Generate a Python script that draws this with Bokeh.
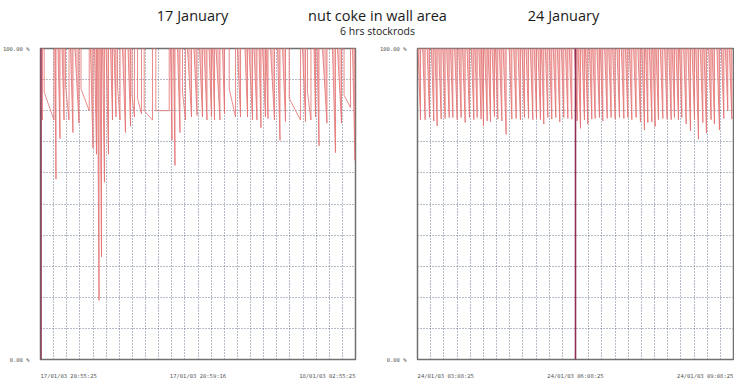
from bokeh.plotting import figure
from bokeh.layouts import column, row
from bokeh.models import Range1d, FixedTicker, Span
from bokeh.core.properties import value
from bokeh.embed import file_html
from bokeh.resources import INLINE

# ---------------- data ----------------
title_left = "17 January"
title_mid = "nut coke in wall area"
subtitle = "6 hrs stockrods"
title_right = "24 January"

y_ticks = [0, 100]
y_tick_labels = ["0.00 %", "100.00 %"]
left_time_labels = ["17/01/03 20:55:25", "17/01/03 20:59:16", "18/01/03 02:55:25"]
right_time_labels = ["24/01/03 03:08:25", "24/01/03 06:08:25", "24/01/03 09:08:25"]
retracted_level = 100

# 17 January: stockrod cycles (minutes from 20:55:25)
left_start = [0, 4.2, 16.6, 20.0, 24.6, 28.6, 34.3, 39.4, 46.3, 57.1, 61.7, 65.1, 68.0, 70.9, 74.9,
              80.0, 84.0, 88.0, 93.7, 100.0, 104.6, 110.9, 118.5, 131.8, 148.6, 152.0, 156.6, 162.3,
              168.0, 175.4, 181.7, 186.9, 192.6, 196.6, 200.6, 208.0, 215.7, 225.1, 233.7, 238.3,
              244.0, 249.7, 253.7, 257.7, 262.9, 270.9, 276.6, 284.2, 299.4, 305.1, 312.6, 316.0,
              322.3, 333.7, 339.4, 346.9, 356.6]
left_end = [2.3, 15.4, 17.7, 22.3, 26.9, 32.6, 37.1, 44.0, 55.7, 60.0, 64.0, 66.9, 69.7, 73.1, 77.7,
            82.3, 86.3, 90.9, 97.1, 102.9, 107.4, 115.4, 128.0, 147.1, 150.3, 153.7, 159.4, 165.7,
            172.6, 178.9, 185.1, 190.3, 195.4, 198.9, 205.1, 210.3, 222.9, 228.6, 236.6, 242.3,
            247.4, 252.0, 257.1, 260.0, 267.4, 273.7, 280.0, 297.1, 302.9, 309.1, 314.3, 318.3,
            327.4, 337.1, 344.0, 354.3, 359.4]
left_top = [81, 86, 100, 100, 100, 88, 100, 100, 87, 100, 100, 100, 100, 100, 100,
            100, 100, 88, 100, 100, 85, 84, 80, 80, 100, 100, 100, 86,
            100, 100, 100, 100, 100, 100, 100, 100, 87, 100, 100, 100,
            100, 100, 100, 100, 100, 100, 100, 84, 100, 86, 100, 100,
            100, 100, 100, 85, 100]
left_low = [77, 77, 58, 71, 77, 77, 73, 76, 80, 68, 66, 19, 33, 57, 66,
            77, 78, 77, 73, 75, 78, 79, 77, 80, 70.5, 62.4, 73, 77,
            78, 78.5, 78, 77, 78, 77, 77, 79, 78, 78, 78, 77,
            77, 74.5, 78, 77.5, 77, 70.5, 76.5, 77, 76.5, 77, 78, 68.7,
            76, 66.5, 76, 81, 64]

# 24 January: stockrod cycles (minutes from 03:08:25)
right_start = [0.6, 5.9, 11.0, 15.8, 19.9, 24.1, 28.8, 33.2, 37.6, 42.3, 46.9, 51.3, 56.4, 61.3, 65.4,
               69.8, 73.0, 76.5, 80.4, 84.9, 88.8, 93.2, 97.6, 104.4, 109.6, 114.4, 119.0, 123.6,
               128.5, 132.9, 137.2, 141.2, 145.6, 150.2, 154.7, 159.3, 163.9, 168.5, 172.9, 179.0,
               182.9, 187.3, 191.3, 195.8, 199.7, 204.4, 208.3, 213.2, 217.8, 222.3, 227.2, 232.2,
               236.8, 241.3, 246.2, 251.1, 255.5, 259.8, 264.1, 268.0, 271.7, 276.6, 281.5, 286.2,
               290.1, 294.4, 298.4, 303.2, 308.0, 312.7, 317.0, 322.1, 326.3, 331.6, 335.6, 341.1,
               346.1, 350.7, 355.2]
right_end = [3.4, 8.7, 13.7, 18.6, 22.4, 27.0, 31.5, 36.1, 40.3, 45.2, 49.7, 54.3, 59.2, 64.2, 68.0,
             72.5, 75.2, 79.4, 83.2, 87.7, 91.5, 96.1, 101.0, 107.5, 112.4, 117.3, 121.9, 126.5,
             131.4, 135.6, 140.1, 143.9, 148.5, 153.0, 157.6, 162.1, 166.7, 171.3, 175.8, 181.9,
             185.7, 190.2, 194.0, 198.6, 202.4, 207.3, 211.1, 216.1, 220.6, 225.2, 230.1, 235.1,
             239.6, 244.2, 249.1, 254.0, 258.6, 262.4, 267.0, 270.7, 274.5, 279.5, 284.4, 289.0,
             292.8, 297.3, 301.1, 306.1, 311.0, 315.6, 320.1, 325.1, 329.2, 334.5, 338.3, 344.0,
             349.0, 353.5, 358.1]
right_low = [77.1, 77.1, 77.8, 76.7, 75.1, 77.3, 77.5, 77.8, 77.8, 77.1,
             77.8, 76.2, 77.8, 77.1, 77.8, 77.3, 75.1, 76.7, 76.4, 78.1,
             77.3, 76.7, 72.4, 77.3, 77.5, 77.1, 77.8, 77.5, 77.1, 77.5,
             77.1, 75.7, 77.8, 77.3, 77.8, 76.4, 77.8, 77.5, 77.3,
             76.7, 74.3, 77.1, 75.7, 77.3, 77.5, 77.8, 76.7, 77.5, 77.8,
             77.3, 77.8, 77.5, 77.8, 77.1, 77.8, 76.4, 73.8, 76.2, 76.4,
             74.9, 77.1, 77.5, 77.3, 77.1, 77.8, 77.1, 77.8, 75.7, 73.5,
             77.1, 70.8, 76.2, 72.8, 77.1, 75.7, 73.8, 77.5, 80.0, 77.3]
right_top = [retracted_level] * len(right_start)

marker_left = 0.5
marker_right = 180

# ---------------- styling ----------------
LINE = "#e36f6f"
FILL = "#f0adad"
GRID = "#5f6b88"
LABEL_FONT = "DejaVu Sans Mono"
LABEL_COLOR = "#555555"
# first label hangs right of the frame start, last one ends at frame end (printed chart style)
X_LABEL_POS = [32.2, 180, 327.8]


def panel(start, end, top, low, time_labels, marker, bl, br, fw):
    p = figure(frame_width=fw, frame_height=311,
               x_range=Range1d(0, 360), y_range=Range1d(0, 100),
               output_backend="svg", toolbar_location=None,
               min_border_left=bl, min_border_right=br, min_border_top=6, min_border_bottom=16)
    p.title.visible = False
    p.background_fill_color = "white"
    p.border_fill_color = "white"
    p.outline_line_color = "#707070"
    p.outline_line_width = 1.5

    xs, ys = [], []
    pxs, pys = [], []
    for a, b, h, lo in zip(start, end, top, low):
        xs += [a, a, b, b]
        ys += [retracted_level, h, lo, retracted_level]
        if h >= retracted_level:
            pxs.append([a, a, b, b])
            pys.append([retracted_level, h, lo, retracted_level])
    p.patches(pxs, pys, fill_color=FILL, fill_alpha=0.75, line_color=None)
    p.line(xs, ys, line_color=LINE, line_width=1, line_alpha=0.8)

    p.add_layout(Span(location=marker, dimension="height", line_color="#8e2f55", line_width=1.6))

    p.xaxis.ticker = FixedTicker(ticks=X_LABEL_POS)
    p.xaxis.major_label_overrides = {t: s for t, s in zip(X_LABEL_POS, time_labels)}
    p.yaxis.ticker = FixedTicker(ticks=y_ticks)
    p.yaxis.major_label_overrides = {t: s for t, s in zip(y_ticks, y_tick_labels)}
    for ax in (p.xaxis, p.yaxis):
        ax.major_label_text_font = LABEL_FONT
        ax.major_label_text_font_size = "5.5px"
        ax.major_label_text_color = LABEL_COLOR
        ax.major_tick_line_color = None
        ax.minor_tick_line_color = None
        ax.axis_line_color = None
    p.yaxis.major_label_standoff = 5
    p.xaxis.major_label_standoff = 7

    p.xgrid.ticker = FixedTicker(ticks=[15 * i for i in range(1, 24)])
    p.ygrid.ticker = FixedTicker(ticks=[10 * i for i in range(1, 10)])
    for g in (p.xgrid, p.ygrid):
        g.grid_line_color = GRID
        g.grid_line_dash = "1 2"
        g.grid_line_width = 1
        g.grid_line_alpha = 0.9
    return p


left = panel(left_start, left_end, left_top, left_low, left_time_labels, marker_left, 35, 22, 315)
right = panel(right_start, right_end, right_top, right_low, right_time_labels, marker_right, 33, 1, 316)

head = figure(frame_width=722, frame_height=42, x_range=Range1d(0, 722), y_range=Range1d(0, 42),
              output_backend="svg", toolbar_location=None, min_border=0,
              x_axis_location=None, y_axis_location=None)
head.title.visible = False
head.outline_line_color = None
head.grid.visible = False
head.text(x=[192, 377, 563], y=[27, 27, 27], text=[title_left, title_mid, title_right],
          text_align="center", text_baseline="alphabetic", text_font=value("Open Sans"),
          text_font_size="14.5px", text_color="#1a1a1a")
head.text(x=[377], y=[12], text=[subtitle], text_align="center", text_baseline="alphabetic",
          text_font=value("Open Sans"), text_font_size="10.5px", text_color="#1a1a1a")

layout = column(head, row(left, right, spacing=0), spacing=0)
open("out.html", "w").write(file_html(layout, INLINE))
